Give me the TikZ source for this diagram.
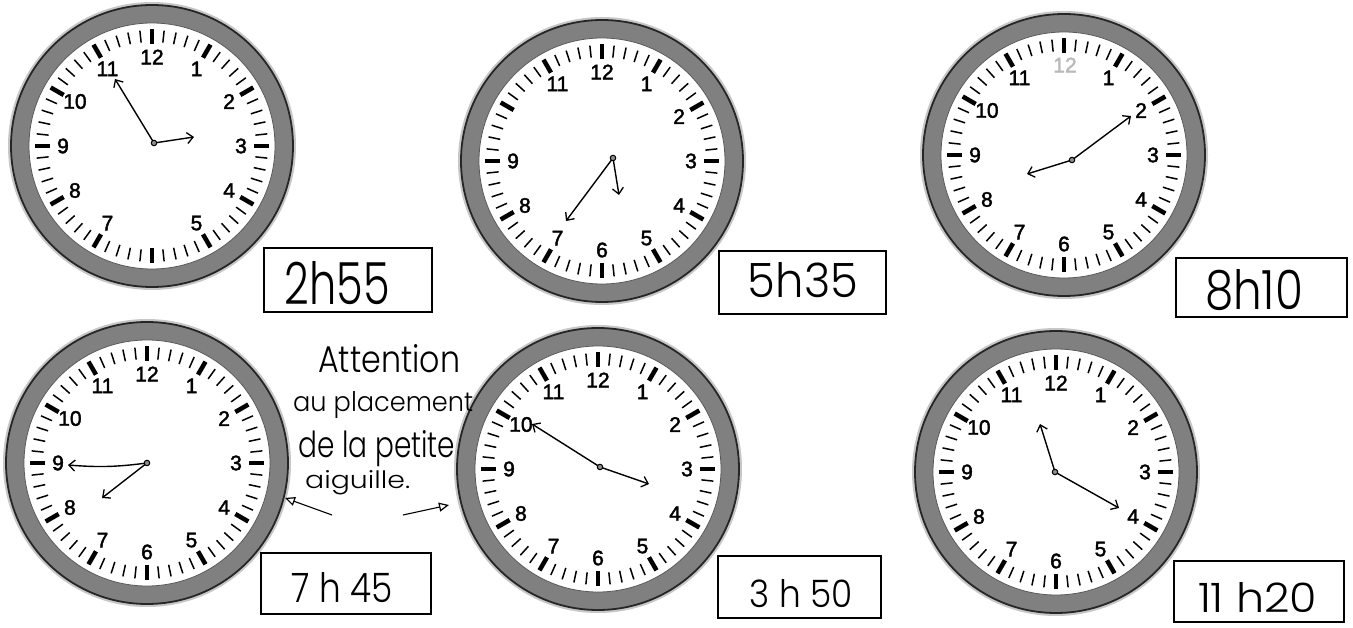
\documentclass[tikz,border=0pt]{standalone}
\usepackage{fontspec}
\usepackage{graphicx}
\usetikzlibrary{arrows.meta}
\newfontfamily\numfont{Liberation Sans}[FakeBold=2]
\newfontfamily\handfont{Poppins Light}
\newcommand\drawclock[4]{%
  \fill[black!22] (#2,#3) circle[radius=144pt];
  \node[rim] (#1) at (#2,#3) {};
  \fill[white] (#1.center) circle[radius=123pt];
  \draw[black!65,line width=0.8pt] (#1.center) circle[radius=123pt];
  \begin{scope}[shift={(#1.center)}]
    \foreach \m in {0,...,59}{%
      \pgfmathsetmacro\ang{90-6*\m}%
      \pgfmathtruncatemacro\rem{mod(\m,5)}%
      \ifnum\rem=0
        \draw[hourtick] (\ang:102pt) -- (\ang:117pt);
      \else
        \draw[mintick] (\ang:104pt) -- (\ang:116pt);
      \fi
    }
    \foreach \h in {#4}{%
      \pgfmathsetmacro\hang{90-30*\h}%
      \node[num] (#1-\h) at (\hang:89pt) {\h};
    }
  \end{scope}
}
\begin{document}
\begin{tikzpicture}[x=1pt,y=-1pt,
  rim/.style={circle,inner sep=0pt,minimum size=282pt,fill=black!50,draw=black!85,line width=1.8pt},
  hourtick/.style={line width=4.5pt},
  mintick/.style={line width=1.5pt},
  num/.style={font=\numfont\fontsize{21}{21}\selectfont,inner sep=0pt},
  hand/.style={line width=1.4pt,-{Straight Barb[length=6pt,width=11pt,line width=1.3pt]}},
  pivot/.style={circle,draw,line width=1pt,fill=black!45,inner sep=0pt,minimum size=5.5pt},
  timebox/.style={draw,line width=2.4pt,inner sep=0pt},
  timetext/.style={inner sep=0pt},
  noteline/.style={inner sep=0pt,anchor=base west},
  notearrow/.style={line width=1.1pt,-{Triangle[open,length=10pt,width=9pt,line width=1.2pt]}}
]
\fill[white] (0,0) rectangle (1353,628);
\useasboundingbox (0,0) rectangle (1353,628);

% ---------- clocks ----------
\drawclock{c1}{152}{146}{1,2,3,4,5,7,8,9,10,11,12}
\drawclock{c2}{602}{161}{1,2,3,4,5,6,7,8,9,11,12}
\drawclock{c3}{1064}{155}{1,2,3,4,5,6,7,8,9,10,11}
\node[num,text=gray!55] (c3-12) at (1065,65) {12};
\drawclock{c4}{147}{463}{1,2,3,4,5,6,7,8,9,10,11,12}
\drawclock{c5}{598}{469}{1,2,3,4,5,6,7,8,9,10,11,12}
\drawclock{c6}{1056}{472}{1,2,3,4,5,6,7,8,9,10,11,12}

% ---------- hands ----------
\coordinate (c1p) at (154,143); \coordinate (c1m) at (115,79);  \coordinate (c1h) at (194,137);
\coordinate (c2p) at (613,158); \coordinate (c2m) at (566,221); \coordinate (c2h) at (619,195);
\coordinate (c3p) at (1072,160);\coordinate (c3m) at (1131,116);\coordinate (c3h) at (1027,174);
\coordinate (c4p) at (147,463); \coordinate (c4m) at (68,465);  \coordinate (c4h) at (102,498);
\coordinate (c5p) at (600,467); \coordinate (c5m) at (532,424); \coordinate (c5h) at (649,484);
\coordinate (c6p) at (1055,472);\coordinate (c6m) at (1119,508);\coordinate (c6h) at (1040,424);
\draw[hand] (c1p) -- (c1m); \draw[hand] (c1p) -- (c1h);
\draw[hand] (c2p) -- (c2m); \draw[hand] (c2p) -- (c2h);
\draw[hand] (c3p) -- (c3m); \draw[hand] (c3p) -- (c3h);
\draw[hand] (c4p) to[bend left=6] (c4m); \draw[hand] (c4p) -- (c4h);
\draw[hand] (c5p) -- (c5m); \draw[hand] (c5p) -- (c5h);
\draw[hand] (c6p) -- (c6m); \draw[hand] (c6p) -- (c6h);
\foreach \k in {1,...,6}{\node[pivot] (c\k pv) at (c\k p) {};}

% ---------- time boxes ----------
\node[timebox,minimum width=167.6pt,minimum height=63.6pt] (b1) at (348,280) {};
\node[timetext] (t1) at (337.5,283.5) {\resizebox{105pt}{43pt}{\handfont 2h55}};
\node[timebox,minimum width=166.6pt,minimum height=62.6pt] (b2) at (802.5,282.5) {};
\node[timetext] (t2) at (803,280.5) {\resizebox{110pt}{35pt}{\handfont 5h35}};
\node[timebox,minimum width=170.6pt,minimum height=58.6pt] (b3) at (1261.5,287.5) {};
\node[timetext] (t3) at (1254,290) {\resizebox{98pt}{40pt}{\handfont 8h10}};
\node[timebox,minimum width=169.6pt,minimum height=60.6pt] (b4) at (346,583.5) {};
\node[timetext] (t4) at (342.5,588) {\resizebox{101pt}{30pt}{\handfont 7 h 45}};
\node[timebox,minimum width=162.6pt,minimum height=61.6pt] (b5) at (799.5,587) {};
\node[timetext] (t5) at (801.5,594) {\resizebox{103pt}{28pt}{\handfont 3 h 50}};
\node[timebox,minimum width=169.6pt,minimum height=60.6pt] (b6) at (1259,591.5) {};
\node[timetext] (t6) at (1257.5,598) {\resizebox{119pt}{30pt}{\handfont 11 h20}};

% ---------- note ----------
\node[noteline] (n1) at (318,373) {\resizebox{142pt}{28pt}{\handfont Attention}};
\node[noteline] (n2) at (293,411) {\resizebox{180pt}{20pt}{\handfont au placement}};
\node[noteline] (n3) at (298,457) {\resizebox{157pt}{27pt}{\handfont de la petite}};
\node[noteline] (n4) at (305,488) {\resizebox{105pt}{18pt}{\handfont aiguille.}};
\coordinate (aL) at (332,515); \coordinate (aLt) at (285,498);
\coordinate (aR) at (403,515); \coordinate (aRt) at (449,505);
\draw[notearrow] (aL) -- (aLt);
\draw[notearrow] (aR) -- (aRt);
\end{tikzpicture}
\end{document}
